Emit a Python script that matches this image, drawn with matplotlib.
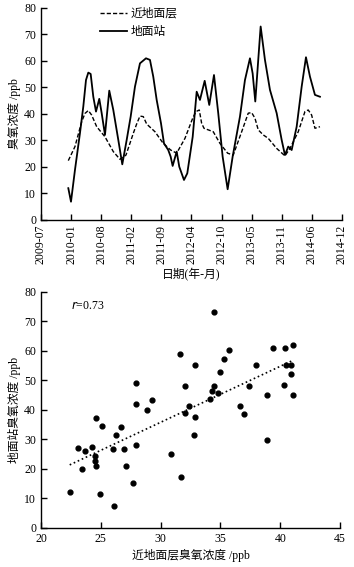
import matplotlib
matplotlib.use("Agg")
import matplotlib.pyplot as plt
import numpy as np

plt.rcParams["font.family"] = ["Liberation Serif", "Noto Sans CJK SC"]
plt.rcParams["font.size"] = 8

# 时间序列：横轴为自 2009-07 起的月数
tick_labels = ["2009-07", "2010-01", "2010-08", "2011-02", "2011-09", "2012-04",
               "2012-10", "2013-05", "2013-11", "2014-06", "2014-12"]

station_t = [5.90, 6.48, 7.34, 8.42, 9.14, 9.72, 10.22, 10.73, 11.30, 11.88,
             12.59, 13.11, 13.82, 14.75, 15.62, 16.70, 17.56, 18.51, 19.37, 20.30,
             21.38, 22.68, 23.54, 24.25, 24.99, 25.92, 26.57, 27.49, 28.01, 28.44,
             29.31, 29.87, 30.89, 31.60, 32.77, 33.63, 34.34, 35.36, 36.35, 37.37,
             38.29, 39.24, 40.32, 41.40, 42.98, 44.06, 45.14, 45.72, 46.29, 46.93,
             47.45, 48.38, 49.46, 50.91, 51.99, 52.70, 53.41, 54.15, 55.23, 56.31,
             57.24, 58.10, 59.18, 60.26]
station_o3 = [12.0, 6.9, 18.9, 32.8, 42.8, 52.8, 55.6, 55.1, 46.5, 40.9,
              45.7, 40.3, 32.1, 48.8, 41.5, 30.2, 21.0, 30.2, 39.0, 50.3,
              59.1, 61.0, 60.4, 54.1, 45.3, 36.5, 28.9, 26.4, 23.9, 20.4,
              25.8, 20.1, 15.1, 17.6, 31.4, 48.4, 45.3, 52.5, 43.4, 54.7,
              40.3, 23.9, 11.6, 23.9, 39.0, 52.8, 61.0, 55.3, 44.7, 60.4,
              73.0, 60.4, 49.1, 40.3, 30.2, 24.5, 27.7, 26.4, 35.2, 50.3,
              61.4, 54.1, 47.2, 46.5]

layer_t = [5.90, 7.34, 8.79, 9.50, 10.22, 10.94, 12.03, 13.82, 15.62, 17.06,
           18.36, 19.94, 20.66, 21.38, 22.10, 22.83, 24.62, 26.41, 28.01, 29.31,
           31.10, 32.77, 33.48, 34.19, 34.70, 35.21, 37.21, 38.66, 40.32, 41.53,
           43.35, 44.77, 45.51, 46.22, 46.93, 48.01, 49.09, 50.91, 52.70, 53.78,
           55.57, 57.02, 57.73, 58.46, 59.18, 60.26]
layer_o3 = [22.4, 27.7, 37.1, 40.2, 41.3, 39.6, 35.2, 31.4, 25.8, 22.9,
            24.5, 32.7, 36.2, 39.2, 39.0, 36.2, 33.3, 28.9, 26.4, 25.2,
            30.8, 38.4, 40.9, 41.5, 36.5, 34.6, 33.3, 28.9, 25.2, 24.5,
            33.3, 40.3, 40.5, 38.4, 34.0, 32.1, 30.8, 27.0, 24.2, 27.0,
            33.3, 40.9, 41.5, 39.6, 34.6, 35.2]

# 散点：近地面层 vs 地面站
near_ground = [24.6, 25.1, 26.7, 27.9, 27.9, 28.9, 29.3, 31.6, 32.0, 32.0,
               32.4, 32.9, 32.9, 34.1, 34.3, 34.5, 34.5, 34.8, 35.0, 35.3,
               35.7, 36.6, 37.0, 37.4, 38.0, 38.9, 39.4, 40.3, 40.4, 40.5,
               40.9, 40.9, 41.1, 41.1, 23.1, 23.4, 23.7, 22.4, 24.3, 24.5,
               24.5, 24.6, 24.9, 26.1, 26.0, 26.3, 26.9, 27.1, 27.7, 27.9,
               30.9, 31.7, 32.8, 38.9]
ground = [37.1, 34.5, 34.2, 48.9, 41.8, 39.9, 43.3, 58.9, 48.0, 38.8,
          41.4, 55.0, 37.5, 43.5, 46.3, 73.1, 48.0, 45.5, 52.8, 57.2,
          60.2, 41.2, 38.6, 48.2, 55.0, 45.1, 60.8, 48.4, 60.9, 55.0,
          55.0, 52.1, 61.9, 44.9, 27.1, 19.9, 26.1, 12.0, 27.5, 24.4,
          22.6, 20.8, 11.4, 7.5, 26.8, 31.5, 26.8, 21.0, 15.3, 28.1,
          25.1, 17.2, 31.5, 29.9]

fig = plt.figure(figsize=(3.54, 5.67), dpi=100)


def style_axes(ax):
    for s in ("top", "right"):
        ax.spines[s].set_visible(False)
    ax.tick_params(direction="in", length=4, width=1, labelsize=8.5)
    ax.spines["left"].set_linewidth(1)
    ax.spines["bottom"].set_linewidth(1)


# 上图：时间序列
ax1 = fig.add_axes([0.1158, 0.612, 0.850, 0.374])
ax1.plot(layer_t, layer_o3, "k--", lw=1.0, dashes=(3, 1.5), label="近地面层")
ax1.plot(station_t, station_o3, "k-", lw=1.3, label="地面站")
ax1.set_xlim(0, 65)
ax1.set_ylim(0, 80)
ax1.set_xticks(np.linspace(0, 65, len(tick_labels)))
ax1.set_xticklabels(tick_labels, rotation=90)
ax1.set_yticks(range(0, 81, 10))
ax1.set_xlabel("日期(年-月)", fontsize=8.5, labelpad=3)
ax1.set_ylabel("臭氧浓度 /ppb", fontsize=8.5, labelpad=2)
ax1.legend(loc="upper left", bbox_to_anchor=(0.16, 1.05), frameon=False,
           fontsize=8.5, handlelength=2.3, handletextpad=0.3, labelspacing=0.5)
style_axes(ax1)

# 下图：散点 + 线性拟合
ax2 = fig.add_axes([0.1158, 0.0693, 0.845, 0.4162])
ax2.scatter(near_ground, ground, s=12, c="k", zorder=3)
k, b = np.polyfit(near_ground, ground, 1)
xs = np.array([min(near_ground), max(near_ground)])
ax2.plot(xs, k * xs + b, "k:", lw=1.2)
ax2.text(0.1, 0.94, r"$r$=0.73", transform=ax2.transAxes, ha="left", va="center",
         fontsize=8.5)
ax2.set_xlim(20, 45)
ax2.set_ylim(0, 80)
ax2.set_xticks(range(20, 46, 5))
ax2.set_yticks(range(0, 81, 10))
ax2.set_xlabel("近地面层臭氧浓度 /ppb", fontsize=8.5, labelpad=3)
ax2.set_ylabel("地面站臭氧浓度 /ppb", fontsize=8.5, labelpad=2)
style_axes(ax2)

fig.savefig("out.png", dpi=100)
